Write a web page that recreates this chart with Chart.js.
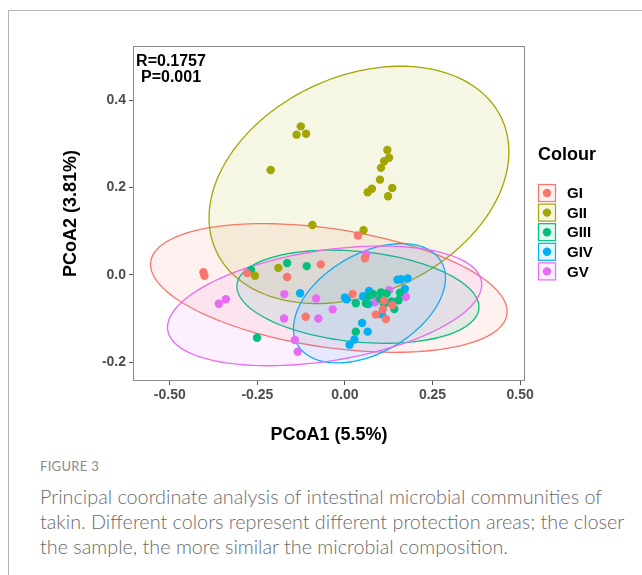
<!DOCTYPE html>
<html>
  <head>
    <title>PCoA</title>
    <meta charset="UTF-8" />
    <script src="https://cdn.jsdelivr.net/npm/chart.js@4"></script>
    <style>
      body { margin: 0; background: #fff; width: 642px; height: 575px; overflow: hidden; position: relative; }
      #frame { position: absolute; left: 8px; top: 10px; width: 640px; height: 570px; border-top: 1px solid #b5b5b5; border-left: 1px solid #b5b5b5; }
      #myChart { position: absolute; left: 0; top: 0; }
      #fig { position: absolute; left: 40px; top: 458px; font-family: "Lato", "Open Sans", sans-serif; font-size: 13px; color: #8a8a8a; letter-spacing: 0.3px; }
      #cap { position: absolute; left: 40px; top: 484px; width: 585px; font-family: "Lato", "Open Sans", sans-serif; font-weight: 300; font-size: 19.8px; line-height: 25px; color: #6a6a6a; }
    </style>
  </head>
  <body>
    <div id="frame"></div>
    <canvas id="myChart" width="642" height="450"></canvas>
    <div id="fig">FIGURE 3</div>
    <div id="cap">Principal coordinate analysis of intestinal microbial communities of takin. Different colors represent different protection areas; the closer the sample, the more similar the microbial composition.</div>
    <script>
      var groups = ["GI", "GII", "GIII", "GIV", "GV"];
      var colors = ["#F8766D", "#A3A500", "#00BF7D", "#00B0F6", "#E76BF3"];

      // sample coordinates
      var xGI = [-0.404, -0.401, -0.279, -0.165, -0.069, -0.112, 0.022, 0.037, 0.057, 0.088, 0.117, 0.108, 0.135, 0.112];
      var yGI = [0.006, -0.002, 0.004, -0.005, 0.024, -0.096, -0.044, 0.090, 0.038, -0.091, -0.101, -0.079, -0.069, -0.059];
      var xGII = [-0.126, -0.138, -0.111, 0.121, 0.126, 0.112, 0.103, 0.100, 0.077, 0.065, 0.135, 0.123, -0.212, -0.093, 0.053, -0.190, -0.257];
      var yGII = [0.340, 0.321, 0.323, 0.286, 0.268, 0.260, 0.245, 0.218, 0.197, 0.189, 0.199, 0.180, 0.240, 0.114, 0.102, 0.016, -0.002];
      var xGIII = [-0.268, -0.165, -0.109, -0.251, 0.031, 0.031, 0.060, 0.080, 0.103, 0.112, 0.119, 0.133, 0.141, 0.153, 0.157, 0.070, 0.100];
      var yGIII = [0.011, 0.027, 0.020, -0.144, -0.065, -0.130, -0.065, -0.044, -0.040, -0.067, -0.043, -0.061, -0.078, -0.058, -0.041, -0.048, -0.055];
      var xGIV = [-0.128, 0.000, 0.005, 0.052, 0.069, 0.067, 0.078, 0.105, 0.049, 0.065, 0.027, 0.013, 0.150, 0.160, 0.179, 0.171];
      var yGIV = [-0.042, -0.052, -0.056, -0.049, -0.037, -0.067, -0.044, -0.090, -0.110, -0.130, -0.148, -0.160, -0.011, -0.010, -0.008, -0.032];
      var xGV = [-0.360, -0.340, -0.173, -0.174, -0.076, -0.082, -0.143, -0.135, -0.035, 0.060, 0.093, 0.126, 0.174, 0.086];
      var yGV = [-0.066, -0.056, -0.044, -0.100, -0.100, -0.054, -0.149, -0.176, -0.079, 0.047, -0.051, -0.035, -0.050, -0.063];

      // confidence ellipses: centre, half-diameter to the rightmost point, vertical half-chord
      var ellCx = [-0.046, 0.040, 0.037, 0.070, -0.058];
      var ellCy = [-0.030, 0.206, -0.050, -0.065, -0.071];
      var ellUx = [0.509, 0.428, 0.3455, 0.217, 0.4485];
      var ellUy = [-0.054, 0.0756, -0.0236, 0.0579, 0.049];
      var ellV = [0.137, 0.261, 0.104, 0.1237, 0.128];

      var xTicks = [-0.5, -0.25, 0, 0.25, 0.5];
      var yTicks = [-0.2, 0, 0.2, 0.4];
      var statLines = ["R=0.1757", "P=0.001"];

      var xs = [xGI, xGII, xGIII, xGIV, xGV];
      var ys = [yGI, yGII, yGIII, yGIV, yGV];

      function alpha(hex, a) {
        var n = parseInt(hex.slice(1), 16);
        return "rgba(" + (n >> 16) + "," + ((n >> 8) & 255) + "," + (n & 255) + "," + a + ")";
      }

      var datasets = groups.map(function(g, i) {
        return {
          label: g,
          data: xs[i].map(function(x, j) { return { x: x, y: ys[i][j] }; }),
          backgroundColor: colors[i],
          borderWidth: 0,
          pointRadius: 4.2,
          pointHoverRadius: 4.2
        };
      });

      var ellipsePlugin = {
        id: "ellipses",
        beforeDatasetsDraw: function(chart) {
          var ctx = chart.ctx, xs_ = chart.scales.x, ys_ = chart.scales.y, a = chart.chartArea;
          ctx.save();
          ctx.beginPath();
          ctx.rect(a.left, a.top, a.right - a.left, a.bottom - a.top);
          ctx.clip();
          for (var i = 0; i < groups.length; i++) {
            ctx.beginPath();
            for (var k = 0; k <= 120; k++) {
              var t = (k / 120) * Math.PI * 2;
              var px = xs_.getPixelForValue(ellCx[i] + ellUx[i] * Math.cos(t));
              var py = ys_.getPixelForValue(ellCy[i] + ellUy[i] * Math.cos(t) + ellV[i] * Math.sin(t));
              if (k == 0) ctx.moveTo(px, py); else ctx.lineTo(px, py);
            }
            ctx.closePath();
            ctx.fillStyle = alpha(colors[i], 0.1);
            ctx.fill();
            ctx.strokeStyle = colors[i];
            ctx.lineWidth = 1.3;
            ctx.stroke();
          }
          ctx.restore();
        },
        afterDraw: function(chart) {
          var ctx = chart.ctx, a = chart.chartArea;
          ctx.save();
          // panel border
          ctx.strokeStyle = "#8c8c8c";
          ctx.lineWidth = 1;
          ctx.strokeRect(a.left + 0.5, a.top + 0.5, a.right - a.left - 1, a.bottom - a.top - 1);
          // R / P annotation
          ctx.fillStyle = "#000";
          ctx.font = "bold 16px 'Liberation Sans', Arial, sans-serif";
          ctx.textAlign = "center";
          ctx.textBaseline = "middle";
          ctx.fillText(statLines[0], a.left + 38, a.top + 16);
          ctx.fillText(statLines[1], a.left + 38, a.top + 32);
          // legend
          var lx = a.right + 13;
          ctx.textAlign = "left";
          ctx.font = "bold 18px 'Liberation Sans', Arial, sans-serif";
          ctx.fillText("Colour", lx, 155);
          ctx.font = "bold 15px 'Liberation Sans', Arial, sans-serif";
          for (var i = 0; i < groups.length; i++) {
            var cy = 193 + i * 19.6;
            ctx.fillStyle = "#fff";
            ctx.fillRect(lx, cy - 9, 18, 18);
            ctx.fillStyle = alpha(colors[i], 0.1);
            ctx.fillRect(lx, cy - 9, 18, 18);
            ctx.strokeStyle = colors[i];
            ctx.lineWidth = 1.2;
            ctx.strokeRect(lx + 0.5, cy - 8.5, 17, 17);
            ctx.fillStyle = colors[i];
            ctx.beginPath();
            ctx.arc(lx + 9, cy, 4.2, 0, Math.PI * 2);
            ctx.fill();
            ctx.fillStyle = "#000";
            ctx.fillText(groups[i], lx + 29, cy + 1);
          }
          ctx.restore();
        }
      };

      var tickFont = { family: "'Liberation Sans', Arial, sans-serif", size: 14, weight: "bold" };
      var titleFont = { family: "'Liberation Sans', Arial, sans-serif", size: 18, weight: "bold" };

      var ctx = document.getElementById("myChart").getContext("2d");
      var chart = new Chart(ctx, {
        type: "scatter",
        data: { datasets: datasets },
        plugins: [ellipsePlugin],
        options: {
          responsive: false,
          animation: false,
          devicePixelRatio: 1,
          layout: { padding: { top: 46, right: 117, left: 0, bottom: 0 } },
          plugins: { legend: { display: false }, tooltip: { enabled: false } },
          scales: {
            x: {
              type: "linear",
              min: -0.605,
              max: 0.514,
              afterBuildTicks: function(s) { s.ticks = xTicks.map(function(v) { return { value: v }; }); },
              afterFit: function(s) { s.height = 69; },
              ticks: {
                font: tickFont,
                color: "#4d4d4d",
                padding: 2,
                maxRotation: 0,
                callback: function(v) { return v.toFixed(2); }
              },
              grid: { drawOnChartArea: false, tickLength: 4, color: "#555" },
              border: { display: false },
              title: { display: true, text: "PCoA1 (5.5%)", font: titleFont, color: "#000", padding: { top: 0, bottom: 4 } }
            },
            y: {
              type: "linear",
              min: -0.243,
              max: 0.524,
              afterBuildTicks: function(s) { s.ticks = yTicks.map(function(v) { return { value: v }; }); },
              afterFit: function(s) { s.width = 133; },
              ticks: {
                font: tickFont,
                color: "#4d4d4d",
                padding: 3,
                callback: function(v) { return v.toFixed(1); }
              },
              grid: { drawOnChartArea: false, tickLength: 4, color: "#555" },
              border: { display: false },
              title: { display: true, text: "PCoA2 (3.81%)", font: titleFont, color: "#000", padding: { top: 60, bottom: 0 } }
            }
          }
        }
      });
    </script>
  </body>
</html>
